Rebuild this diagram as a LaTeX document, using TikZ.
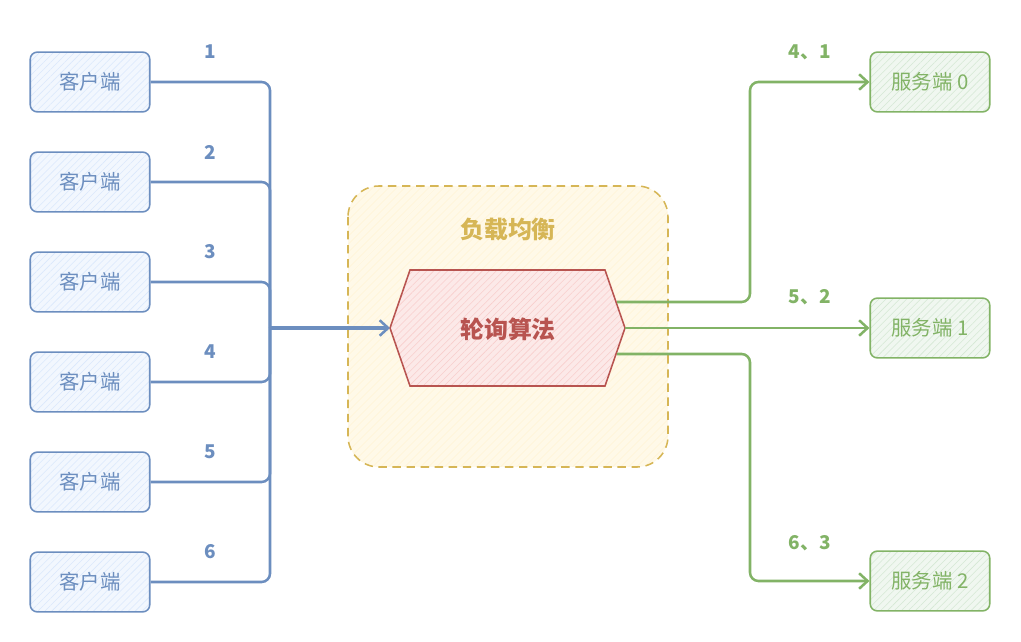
\documentclass[tikz,border=0pt]{standalone}
\usepackage{fontspec}
\setmainfont{Noto Sans CJK SC}
\usetikzlibrary{arrows.meta,patterns.meta}
\definecolor{bstroke}{HTML}{6C8EBF}
\definecolor{bfill}{HTML}{DAE8FC}
\definecolor{gstroke}{HTML}{82B366}
\definecolor{gfill}{HTML}{D5E8D4}
\definecolor{rstroke}{HTML}{B85450}
\definecolor{rfill}{HTML}{F8CECC}
\definecolor{ystroke}{HTML}{D6B656}
\definecolor{yfill}{HTML}{FFF2CC}
\tikzset{
  client/.style={draw=bstroke, line width=1.1pt, rounded corners=5pt,
    preaction={fill=bfill!35},
    pattern={Lines[angle=45,distance=3.5pt,line width=0.4pt]}, pattern color=bfill,
    minimum width=85pt, minimum height=42.5pt, inner sep=0pt, font=\fontsize{14.5}{17}\selectfont, text=bstroke},
  server/.style={draw=gstroke, line width=1.1pt, rounded corners=5pt,
    preaction={fill=gfill!35},
    pattern={Lines[angle=45,distance=3.5pt,line width=0.4pt]}, pattern color=gfill,
    minimum width=85pt, minimum height=42.5pt, inner sep=0pt, font=\fontsize{14.5}{17}\selectfont, text=gstroke},
  num/.style={font=\bfseries\fontsize{13.5}{15}\selectfont, text=bstroke},
  gnum/.style={font=\bfseries\fontsize{13.5}{15}\selectfont, text=gstroke},
  bline/.style={draw=bstroke, line width=1.8pt, rounded corners=6pt},
  gline/.style={draw=gstroke, line width=1.8pt, rounded corners=6pt},
  tip/.style={-{Straight Barb[length=6pt,width=11pt,line width=1.8pt]}},
}
\begin{document}
\begin{tikzpicture}[x=0.025cm,y=-0.025cm]
\useasboundingbox (0,0) rectangle (1021,642);
% container
\draw[ystroke, line width=1.1pt, dash pattern=on 6pt off 4pt, rounded corners=22pt,
  preaction={fill=yfill!45},
  pattern={Lines[angle=45,distance=4pt,line width=0.4pt]}, pattern color=yfill]
  (348,186) rectangle (668,467);
\node[font=\bfseries\fontsize{17}{20}\selectfont, text=ystroke] (lbtitle) at (508,230) {负载均衡};
% hexagon
\draw[rstroke, line width=1.1pt, preaction={fill=rfill!45},
  pattern={Lines[angle=45,distance=3.5pt,line width=0.4pt]}, pattern color=rfill]
  (390,328) -- (410,270) -- (605,270) -- (625,328) -- (605,386) -- (410,386) -- cycle;
\node[font=\bfseries\fontsize{17}{20}\selectfont, text=rstroke] (alg) at (508,329) {轮询算法};
\coordinate (algw) at (390,328);
\coordinate (alge) at (625,328);
\coordinate (algne) at (617,302);
\coordinate (algse) at (617,354);
% clients
\foreach \i/\y in {1/82,2/182,3/282,4/382,5/482,6/582}{
  \node[client] (c\i) at (90,\y) {客户端};
  \node[num] (n\i) at (210,\y-30) {\i};
}
\coordinate (j) at (270,328);
\foreach \i in {1,...,6}{
  \draw[bline] (c\i.east) -- (c\i.east -| j) -- (j);
}
\draw[bline, line width=2.4pt, tip] (j) -- (algw);
% servers
\node[server] (s0) at (930,82) {服务端 0};
\node[server] (s1) at (930,328) {服务端 1};
\node[server] (s2) at (930,581) {服务端 2};
\coordinate (gx) at (750,0);
\draw[gline, tip] (algne) -- (algne -| gx) -- (s0.west -| gx) -- (s0.west);
\draw[gline, tip] (alge) -- (s1.west);
\draw[gline, tip] (algse) -- (algse -| gx) -- (s2.west -| gx) -- (s2.west);
\node[gnum] (l0) at (810,52) {4、1};
\node[gnum] (l1) at (810,297) {5、2};
\node[gnum] (l2) at (810,543) {6、3};
\end{tikzpicture}
\end{document}
